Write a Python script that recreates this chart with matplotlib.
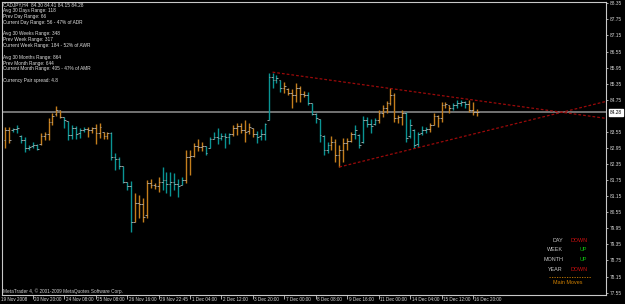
import matplotlib
matplotlib.use("Agg")
import matplotlib.pyplot as plt
import matplotlib.transforms as mtransforms
from matplotlib.lines import Line2D
import numpy as np

plt.rcParams['font.family'] = ['Liberation Sans', 'DejaVu Sans']

W, H = 625, 304
BG = 'black'
FG = '#c8c8c8'
TEAL = '#0a9494'
ORANGE = '#c47e1c'
TICK_GRAY = '#b4b4b4'

# CADJPY H4 bars
opens = [83.26, 83.63, 83.63, 83.67, 83.41, 83.26, 82.96, 83.03, 83.07, 83.11,
         83.41, 83.48, 83.93, 84.22, 84.37, 84.11, 83.96, 83.44, 83.70, 83.52,
         83.63, 83.67, 83.63, 83.70, 83.52, 83.55, 83.41, 83.52, 82.62, 82.55,
         82.29, 81.69, 81.54, 80.20, 80.91, 80.84, 80.46, 81.66, 81.58, 81.54,
         81.69, 81.77, 81.62, 81.69, 81.62, 81.58, 81.77, 82.62, 82.66, 83.03,
         83.00, 83.03, 82.96, 83.29, 83.37, 83.33, 83.41, 83.37, 83.48, 83.70,
         83.78, 83.63, 83.59, 83.70, 83.48, 83.41, 83.48, 84.00, 85.60, 85.49,
         85.49, 85.19, 85.16, 85.01, 84.93, 85.19, 84.97, 84.93, 84.63, 84.22,
         84.04, 83.41, 82.88, 83.07, 83.18, 82.70, 82.88, 83.14, 83.22, 83.48,
         83.44, 83.18, 84.00, 83.85, 83.85, 84.00, 84.26, 84.45, 84.63, 84.93,
         84.08, 84.11, 84.26, 83.41, 83.63, 83.11, 83.52, 83.63, 83.67, 83.82,
         84.15, 84.08, 84.56, 84.56, 84.45, 84.56, 84.63, 84.67, 84.60, 84.37,
         84.30]
highs = [83.74, 83.74, 83.70, 83.82, 83.44, 83.37, 83.07, 83.18, 83.11, 83.52,
         83.55, 84.08, 84.26, 84.52, 84.37, 84.11, 83.96, 83.82, 83.78, 83.70,
         83.74, 83.74, 83.74, 83.85, 83.89, 83.55, 83.55, 83.55, 82.77, 82.62,
         82.29, 81.69, 81.73, 81.28, 81.21, 81.10, 81.77, 81.80, 81.66, 81.88,
         82.25, 82.06, 82.06, 82.03, 81.80, 81.88, 82.88, 82.88, 83.14, 83.29,
         83.18, 83.03, 83.37, 83.55, 83.70, 83.52, 83.52, 83.52, 83.82, 83.89,
         83.89, 84.00, 83.89, 83.70, 83.59, 83.67, 83.89, 85.75, 85.75, 85.68,
         85.49, 85.42, 85.19, 85.16, 85.38, 85.27, 85.08, 85.04, 84.63, 84.26,
         84.04, 83.44, 83.18, 83.41, 83.29, 83.07, 83.33, 83.33, 83.55, 83.82,
         83.48, 84.15, 84.11, 84.04, 84.08, 84.37, 84.56, 84.71, 85.19, 85.01,
         84.19, 84.37, 84.30, 84.04, 83.67, 83.55, 83.78, 83.74, 83.89, 84.26,
         84.19, 84.67, 84.67, 84.56, 84.63, 84.75, 84.75, 84.71, 84.75, 84.67,
         84.41]
lows = [82.96, 83.14, 83.55, 83.52, 83.14, 82.81, 82.88, 82.96, 82.88, 83.07,
        83.26, 83.26, 83.82, 84.15, 84.08, 83.70, 83.26, 83.29, 83.29, 83.33,
        83.55, 83.37, 83.52, 83.11, 83.33, 83.29, 83.29, 82.51, 82.14, 82.18,
        81.66, 81.39, 79.83, 80.17, 80.35, 80.20, 80.35, 81.47, 81.43, 81.32,
        81.39, 81.28, 81.17, 81.39, 81.13, 81.58, 81.66, 81.95, 82.62, 82.85,
        82.85, 82.70, 82.96, 83.29, 83.11, 83.26, 82.96, 83.11, 83.41, 83.44,
        83.52, 83.18, 83.48, 83.37, 83.14, 83.26, 83.26, 84.00, 85.19, 85.38,
        85.04, 85.01, 84.93, 84.45, 84.67, 84.67, 84.86, 84.56, 84.19, 83.89,
        83.18, 82.70, 82.77, 82.88, 82.44, 82.25, 82.44, 82.88, 83.18, 83.29,
        82.96, 83.14, 83.74, 83.52, 83.82, 83.89, 84.11, 84.26, 84.56, 83.93,
        83.89, 83.82, 83.18, 83.33, 82.96, 83.00, 83.44, 83.52, 83.55, 83.82,
        83.74, 83.93, 84.45, 84.26, 84.37, 84.45, 84.52, 84.45, 84.30, 84.19,
        84.15]
closes = [83.63, 83.26, 83.67, 83.70, 83.26, 82.96, 83.00, 83.07, 82.92, 83.41,
          83.48, 83.93, 84.15, 84.37, 84.11, 84.00, 83.44, 83.70, 83.48, 83.63,
          83.67, 83.63, 83.70, 83.52, 83.74, 83.41, 83.52, 82.62, 82.55, 82.29,
          81.69, 81.54, 80.20, 80.91, 80.84, 80.39, 81.66, 81.58, 81.54, 81.69,
          81.77, 81.62, 81.69, 81.62, 81.54, 81.77, 82.62, 82.66, 83.03, 83.00,
          83.03, 82.77, 83.29, 83.37, 83.33, 83.41, 83.37, 83.48, 83.70, 83.78,
          83.63, 83.55, 83.74, 83.48, 83.37, 83.48, 83.85, 85.60, 85.49, 85.57,
          85.19, 85.27, 85.01, 84.93, 85.19, 84.97, 84.93, 84.63, 84.22, 84.08,
          83.44, 82.88, 83.07, 83.18, 82.70, 82.88, 83.14, 83.22, 83.48, 83.63,
          83.07, 84.00, 83.85, 83.78, 84.00, 84.26, 84.45, 84.63, 84.93, 84.08,
          84.11, 84.26, 83.33, 83.82, 83.07, 83.48, 83.63, 83.67, 83.82, 84.15,
          84.08, 84.56, 84.60, 84.45, 84.56, 84.63, 84.67, 84.60, 84.37, 84.30,
          84.28]
# day shading of the bars: o = orange, t = teal
day_shade = ("oo" "ttttttt" "oooooo" "tttttt" "oooooo" "tttttt" "ooooooo"
             "tttttt" "ooooo" "ttttttt" "oooooo" "ttttttt" "oooooo" "tttttt"
             "oooooo" "tttttt" "ooooooo" "tttttt" "oooooo" "tttt" "ooo")

last_price = 84.28
# 84.15 is covered by the price box, so it is not listed
y_ticks = [77.55, 78.15, 78.75, 79.35, 79.95, 80.55, 81.15, 81.75, 82.35,
           82.95, 83.55, 84.75, 85.35, 85.95, 86.55, 87.15, 87.75, 88.35]
y_tick_labels = ['77.55', '78.15', '78.75', '79.35', '79.95', '80.55', '81.15',
                 '81.75', '82.35', '82.95', '83.55', '84.75', '85.35',
                 '85.95', '86.55', '87.15', '87.75', '88.35']
first_time_label = '19 Nov 2008'
time_labels = ['20 Nov 20:00', '24 Nov 08:00', '25 Nov 08:00', '26 Nov 16:00',
               '29 Nov 22:45', '1 Dec 04:00', '2 Dec 12:00', '3 Dec 20:00',
               '7 Dec 00:00', '8 Dec 08:00', '9 Dec 16:00', '11 Dec 00:00',
               '14 Dec 04:00', '15 Dec 12:00', '16 Dec 20:00']
time_label_bars = [7, 15, 23, 31, 39, 47, 55, 63, 71, 79, 87, 95, 103, 111, 119]

# trendline anchors (bar index, price)
upper_trend = [(68, 85.78), (98, 85.17)]
lower_trend = [(85, 82.24), (113, 83.25)]

info_lines = ['CADJPY,H4  84.30 84.41 84.15 84.28',
              'Avg 30 Days Range: 118',
              'Prev Day Range: 66',
              'Current Day Range: 56 - 47% of ADR',
              '',
              'Avg 30 Weeks Range: 348',
              'Prev Week Range: 317',
              'Current Week Range: 184 - 52% of AWR',
              '',
              'Avg 30 Months Range: 864',
              'Prev Month Range: 644',
              'Current Month Range: 405 - 47% of AMR',
              '',
              'Currency Pair spread: 4.8']

periods = ['DAY', 'WEEK', 'MONTH', 'YEAR']
directions = ['DOWN', 'UP', 'UP', 'DOWN']


def fx(px):
    return px / W


def fy(py):
    return 1 - py / H


fig = plt.figure(figsize=(W / 100, H / 100), dpi=100, facecolor=BG)
ax = fig.add_axes([fx(2), 9 / H, 604 / W, 293 / H], facecolor=BG)

x = np.arange(len(opens))
bar_colors = [ORANGE if s == 'o' else TEAL for s in day_shade]
ax.vlines(x, lows, highs, colors=bar_colors, lw=1.0, zorder=3)
ax.hlines(opens, x - 0.45, x, colors=TICK_GRAY, lw=0.6, zorder=4)
ax.hlines(closes, x, x + 0.45, colors=TICK_GRAY, lw=0.6, zorder=4)

ax.axhline(last_price, color='#7c7c7c', lw=1.3, zorder=2)

xmin, xmax = -0.84, 152.85
ax.set_xlim(xmin, xmax)
ax.set_ylim(77.46, 88.40)

for (i0, p0), (i1, p1) in (upper_trend, lower_trend):
    slope = (p1 - p0) / (i1 - i0)
    ax.plot([i0, xmax], [p0, p0 + slope * (xmax - i0)], color='#9a0a0a',
            lw=0.9, ls=(0, (2.2, 1.6)), zorder=5)

# axes frame
for sp in ax.spines.values():
    sp.set_color(FG)
    sp.set_linewidth(0.8)

# price axis on the right
ax.yaxis.tick_right()
ax.set_yticks(y_ticks)
ax.set_yticklabels(y_tick_labels)
ax.tick_params(axis='y', colors=FG, labelcolor='#d8d8d8', labelsize=3.4,
               length=1.6, width=0.6, pad=1.2)

# time axis
ax.set_xticks(time_label_bars)
ax.set_xticklabels(time_labels)
ax.tick_params(axis='x', colors=FG, labelcolor='#d8d8d8', labelsize=3.3,
               length=3, width=0.6, pad=-1.6)
shift = mtransforms.ScaledTranslation(1.5 / 100, 0, fig.dpi_scale_trans)
for lab in ax.get_xticklabels():
    lab.set_horizontalalignment('left')
    lab.set_transform(lab.get_transform() + shift)
fig.text(fx(1), fy(299.5), first_time_label, color='#d8d8d8', fontsize=3.3,
         ha='left', va='center')

# current price box
trans = mtransforms.blended_transform_factory(ax.transAxes, ax.transData)
ax.text(1.006, last_price, f'{last_price:.2f}', transform=trans, fontsize=3.4,
        color='black', ha='left', va='center', zorder=10, clip_on=False,
        bbox=dict(facecolor='white', edgecolor='white', pad=0.7))

# info block top-left
for k, line in enumerate(info_lines):
    if line:
        fig.text(fx(3), fy(5 + 5.8 * k), line, color='#e0e0e0', fontsize=3.4,
                 ha='left', va='center')

fig.text(fx(3), fy(291), 'MetaTrader 4, \u00a9 2001-2009 MetaQuotes Software Corp.',
         color='#d0d0d0', fontsize=3.4, ha='left', va='center')

# trend panel bottom-right
for k, (per, d) in enumerate(zip(periods, directions)):
    yy = fy(240 + 9.7 * k)
    fig.text(fx(563), yy, per, color='#c8c8c8', fontsize=3.9, ha='right', va='center')
    fig.text(fx(587.5), yy, d, color='#d01010' if d == 'DOWN' else '#10c010',
             fontsize=3.9, ha='right', va='center')
fig.add_artist(Line2D([fx(549), fx(591)], [fy(277), fy(277)], color='#d08000',
                      lw=0.6, ls=(0, (1.5, 1.5))))
fig.text(fx(553), fy(282.5), 'Main Moves', color='#d08000', fontsize=3.9,
         ha='left', va='center')

fig.savefig('out.png', dpi=100, facecolor=BG)
